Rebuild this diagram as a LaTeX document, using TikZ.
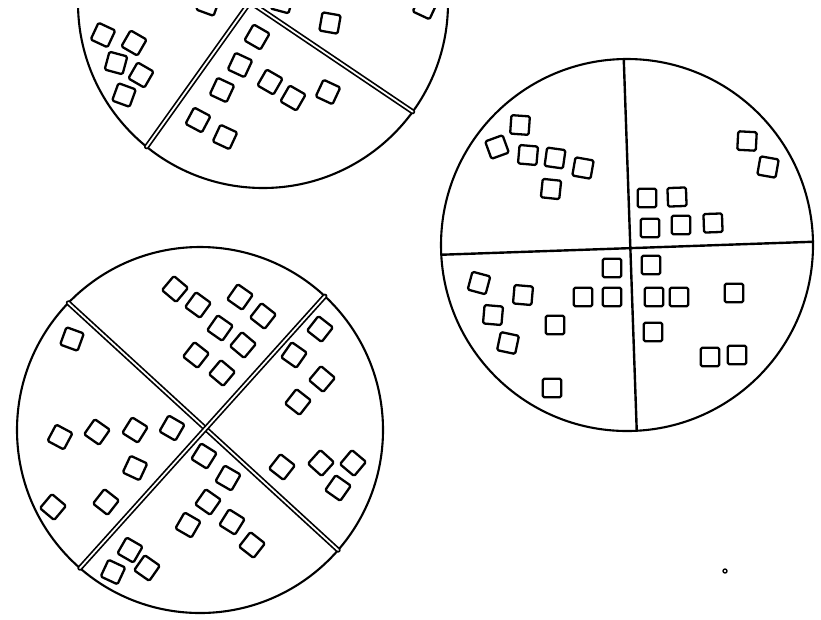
\documentclass[tikz,border=0pt]{standalone}
\begin{document}
\begin{tikzpicture}[x=1pt, y=-1pt, line join=round, line cap=round,
  wheel/.style={circle, draw, line width=2.1pt, inner sep=0pt, outer sep=0pt},
  tile/.style={draw, line width=2.3pt, minimum size=18.5pt, inner sep=0pt, rounded corners=1.5pt},
  split/.style={double, double distance=1.8pt, line width=1.7pt},
  cut/.style={line width=2.4pt}]
\useasboundingbox (0,0) rectangle (821,619);
% top wheel, cut by the page edge
\begin{scope}
\clip (0,8) rectangle (821,619);
\node[wheel, minimum size=370pt] (tw) at (263,3) {};
\coordinate (thub) at (250,2);
\draw[split] (tw.231) -- (thub) -- (tw.-36);
\foreach \x/\y/\a [count=\i] in {103/35/-25, 134/43/-30, 116/63/-15, 141/75/-30, 124/95/-20,
  257/37/-30, 240/65/-25, 222/90/-25, 270/82/-30, 293/98/-30, 328/92/-25,
  198/120/-28, 225/137/-25, 330/23/-10, 208/4/-20, 282/2/-15, 425/7/-25}
  \node[tile, rotate=\a] (t\i) at (\x,\y) {};
\end{scope}
% right wheel
\node[wheel, minimum size=372pt] (rw) at (627,245) {};
\draw[cut] (rw.-177) -- (rw.1);
\draw[cut] (rw.91) -- (rw.-87);
\foreach \x/\y/\a [count=\i] in {520/125/-4, 497/147/20, 528/155/-5, 555/158/-8, 583/168/-10, 551/189/-6,
  747/141/-3, 768/167/-10, 647/198/0, 677/197/2, 650/228/0, 681/225/0, 713/223/2,
  612/268/0, 583/297/0, 612/297/0, 479/283/-15, 523/295/-5, 493/315/-5, 555/325/0,
  508/343/-12, 552/388/0, 651/265/0, 654/297/0, 679/297/0, 734/293/0, 653/332/0,
  710/357/0, 737/355/0}
  \node[tile, rotate=\a] (r\i) at (\x,\y) {};
% bottom wheel
\node[wheel, minimum size=366pt] (bw) at (200,430) {};
\draw[split] (bw.136) -- (bw.-41);
\draw[split] (bw.47) -- (bw.-131);
\foreach \x/\y/\a [count=\i] in {175/289/-40, 198/305/-36, 240/297/-35, 263/316/-38,
  220/328/-35, 243/345/-40, 196/355/-38, 222/373/-40,
  320/329/-38, 294/355/-35, 322/379/-40, 298/402/-38,
  282/467/-38, 321/463/-42, 353/463/-40, 338/488/-35,
  72/339/-20, 60/437/-28, 97/432/-35, 135/430/-32, 172/428/-30, 135/468/-25,
  106/502/-38, 53/507/-40,
  204/456/-32, 228/478/-30, 208/502/-35, 188/525/-30, 232/522/-32, 252/545/-38,
  130/550/-30, 147/568/-35, 113/572/-25}
  \node[tile, rotate=\a] (b\i) at (\x,\y) {};
% stray mark
\draw[line width=1.4pt] (725,571) circle (2pt);
\end{tikzpicture}
\end{document}
